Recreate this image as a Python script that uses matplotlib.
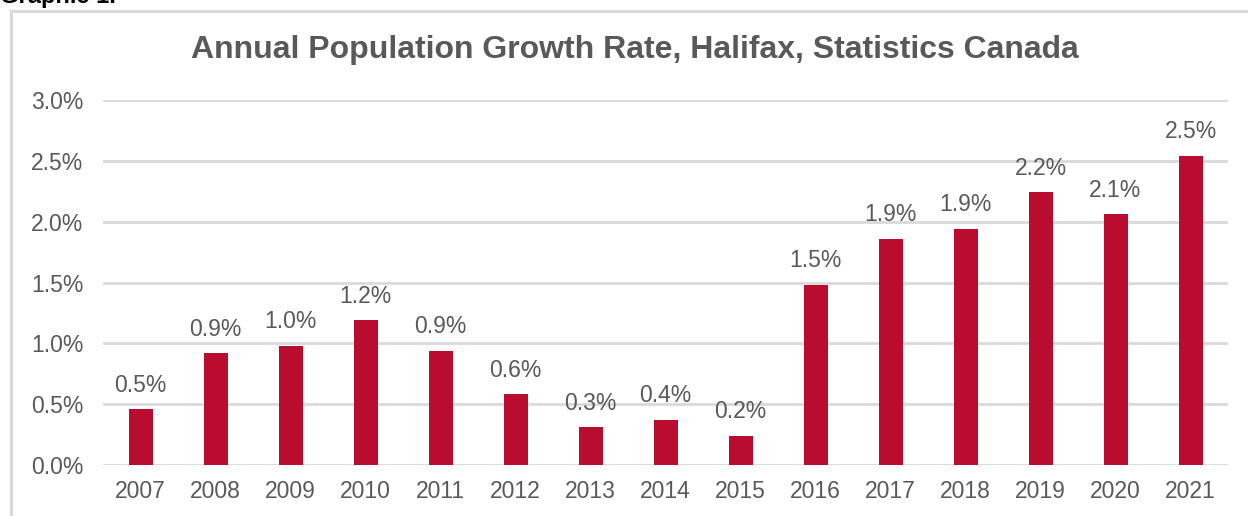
import matplotlib.pyplot as plt
from matplotlib.patches import Rectangle
from matplotlib.ticker import FuncFormatter

years = ["2007", "2008", "2009", "2010", "2011", "2012", "2013", "2014",
         "2015", "2016", "2017", "2018", "2019", "2020", "2021"]
growth = [0.46, 0.92, 0.98, 1.19, 0.94, 0.58, 0.31, 0.37,
          0.24, 1.48, 1.86, 1.94, 2.24, 2.06, 2.54]

bar_col = "#BA0C2F"
txt_col = "#595959"
grid_col = "#D9D9D9"

plt.rcParams['font.family'] = ['Liberation Sans', 'DejaVu Sans']

W, H = 1248, 516
fig = plt.figure(figsize=(W / 100, H / 100), dpi=100)

# light frame around the chart, cropped on the right and bottom
fig.patches.append(Rectangle((11 / W, -0.1), 1.2, 1.1 - 11 / H,
                             transform=fig.transFigure, fill=False,
                             edgecolor=grid_col, linewidth=2.2))
fig.text(0.0, 1 - 3 / H, "Graphic 1.", fontsize=17, fontweight="bold",
         color="black", ha="left", va="baseline")

ax = fig.add_axes([103 / W, 1 - 465 / H, 1125 / W, 365 / H])
x = range(len(years))
bars = ax.bar(x, growth, width=0.32, color=bar_col, zorder=3)

for xi, v in zip(x, growth):
    ax.annotate(f"{v:.1f}%", (xi, v), xytext=(0, 9), textcoords="offset points",
                ha="center", va="bottom", fontsize=16.5, color=txt_col)

ax.set_xlim(-0.5, len(years) - 0.5)
ax.set_ylim(0, 3.0)
ax.set_yticks([0, 0.5, 1.0, 1.5, 2.0, 2.5, 3.0])
ax.yaxis.set_major_formatter(FuncFormatter(lambda v, p: f"{v:.1f}%"))
ax.set_xticks(list(x))
ax.set_xticklabels(years)
ax.tick_params(axis="both", length=0, labelsize=16.5, labelcolor=txt_col)
ax.tick_params(axis="y", pad=14)
ax.tick_params(axis="x", pad=11)
ax.grid(axis="y", color=grid_col, linewidth=2, zorder=0)
ax.set_axisbelow(True)
for s in ax.spines.values():
    s.set_visible(False)

fig.text(635 / W, 1 - 50 / H, "Annual Population Growth Rate, Halifax, Statistics Canada",
         fontsize=23, fontweight="bold", color=txt_col, ha="center", va="center")

fig.savefig("out.png", dpi=100)
